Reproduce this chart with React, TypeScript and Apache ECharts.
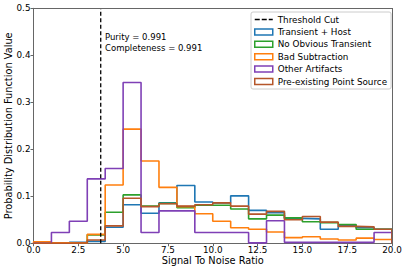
import React, { useEffect, useRef } from "react";
import * as echarts from "echarts";

const binEdges = [0, 1, 2, 3, 4, 5, 6, 7, 8, 9, 10, 11, 12, 13, 14, 15, 16, 17, 18, 19, 20];
const transientHost = [0, 0, 0.002, 0.004, 0.034, 0.082, 0.064, 0.086, 0.123, 0.088, 0.086, 0.101, 0.070, 0.065, 0.053, 0.052, 0.030, 0.038, 0.033, 0.030];
const noObviousTransient = [0, 0, 0.001, 0.018, 0.066, 0.103, 0.079, 0.085, 0.076, 0.081, 0.081, 0.073, 0.052, 0.060, 0.054, 0.046, 0.044, 0.040, 0.030, 0.030];
const badSubtraction = [0.003, 0.001, 0.001, 0.019, 0.124, 0.243, 0.175, 0.119, 0.078, 0.063, 0.047, 0.033, 0.030, 0.024, 0.012, 0.014, 0.009, 0.007, 0.011, 0.008];
const otherArtifacts = [0, 0.023, 0.047, 0.137, 0.159, 0.342, 0.023, 0.069, 0.069, 0.023, 0.023, 0.023, 0.001, 0.048, 0.002, 0.002, 0.002, 0.002, 0.002, 0.023];
const preexistingPointSource = [0, 0, 0.001, 0.007, 0.037, 0.096, 0.078, 0.084, 0.079, 0.082, 0.086, 0.079, 0.062, 0.068, 0.050, 0.057, 0.045, 0.036, 0.035, 0.030];
const thresholdX = 3.75;
const annotationLines = ["Purity = 0.991", "Completeness = 0.991"];
const xTicks = [0, 2.5, 5, 7.5, 10, 12.5, 15, 17.5, 20];

const seriesDefs = [
  { name: "Transient + Host", color: "#1f77b4", values: transientHost },
  { name: "No Obvious Transient", color: "#2ca02c", values: noObviousTransient },
  { name: "Bad Subtraction", color: "#ff7f0e", values: badSubtraction },
  { name: "Other Artifacts", color: "#7f40b6", values: otherArtifacts },
  { name: "Pre-existing Point Source", color: "#b5562a", values: preexistingPointSource },
];

function stepData(values: number[]) {
  const pts: number[][] = [[binEdges[0], 0]];
  values.forEach((v, i) => pts.push([binEdges[i], v]));
  pts.push([binEdges[binEdges.length - 1], values[values.length - 1]]);
  pts.push([binEdges[binEdges.length - 1], 0]);
  return pts;
}

export default function App() {
  const ref = useRef<HTMLDivElement>(null);
  useEffect(() => {
    if (!ref.current) return;
    const chart = echarts.init(ref.current, null, { renderer: "svg" });
    const font = "DejaVu Sans";
    const fs = 8.8;
    const nameFs = 9.8;
    const series: any[] = [
      {
        name: "Threshold Cut",
        type: "line",
        data: [[thresholdX, 0], [thresholdX, 0.5]],
        showSymbol: false,
        symbol: "none",
        lineStyle: { color: "#000", width: 1.3, type: [4, 2.5] },
        z: 10,
      },
      ...seriesDefs.map((s) => ({
        name: s.name,
        type: "line",
        step: "end",
        data: stepData(s.values),
        showSymbol: false,
        symbol: "none",
        lineStyle: { color: s.color, width: 1.6 },
        itemStyle: { color: s.color },
      })),
    ];
    chart.setOption({
      animation: false,
      textStyle: { fontFamily: font },
      grid: { left: 33.5, right: 15, top: 8.3, bottom: 27.7, containLabel: false, outerBoundsMode: "none" },
      xAxis: {
        type: "value",
        min: 0,
        max: 20,
        interval: 2.5,
        name: "Signal To Noise Ratio",
        nameLocation: "middle",
        nameGap: 12.5,
        nameMoveOverlap: false,
        nameTextStyle: { fontFamily: font, fontSize: nameFs, color: "#000" },
        axisLine: { show: true, lineStyle: { color: "#666", width: 1 } },
        axisTick: { show: true, length: 3, lineStyle: { color: "#666" } },
        axisLabel: { fontFamily: font, fontSize: fs, color: "#000", margin: 2.5, formatter: (v: number) => v.toFixed(1), customValues: xTicks },
        splitLine: { show: false },
      },
      yAxis: {
        type: "value",
        min: 0,
        max: 0.5,
        interval: 0.1,
        name: "Probability Distribution Function Value",
        nameLocation: "middle",
        nameGap: 20.5,
        nameMoveOverlap: false,
        nameTextStyle: { fontFamily: font, fontSize: nameFs, color: "#000" },
        axisLine: { show: true, lineStyle: { color: "#666", width: 1 } },
        axisTick: { show: true, length: 3, lineStyle: { color: "#666" } },
        axisLabel: { fontFamily: font, fontSize: fs, color: "#000", margin: 3, formatter: (v: number) => v.toFixed(1) },
        splitLine: { show: false },
      },
      legend: {
        orient: "vertical",
        left: 251,
        top: 12,
        itemWidth: 18,
        itemHeight: 6,
        itemGap: 3.4,
        padding: [3, 4, 3, 3],
        borderColor: "#ccc",
        borderWidth: 1,
        borderRadius: 2,
        backgroundColor: "#fff",
        textStyle: { fontFamily: font, fontSize: fs, color: "#000" },
        data: [
          {
            name: "Threshold Cut",
            icon: "path://M0,3h5v1.6h-5z M7,3h5v1.6h-5z M14,3h4v1.6h-4z",
            itemStyle: { color: "#000", borderWidth: 0 },
          },
          ...seriesDefs.map((s) => ({
            name: s.name,
            icon: "rect",
            itemStyle: { color: "rgba(255,255,255,0)", borderColor: s.color, borderWidth: 1.5 },
          })),
        ],
      },
      graphic: annotationLines.map((t, i) => ({
        type: "text",
        left: 105,
        top: 32 + i * 11.4,
        style: { text: t, fontFamily: font, fontSize: 8.5, fill: "#000" },
      })),
      series,
    });
    return () => chart.dispose();
  }, []);
  return (
    <div style={{ position: "absolute", left: 0, top: 0 }}>
      <div ref={ref} style={{ width: 407, height: 271 }} />
      <div style={{ position: "absolute", left: 392, top: 8, width: 1, height: 236, background: "#666" }} />
      <div style={{ position: "absolute", left: 33, top: 8, width: 360, height: 1, background: "#666" }} />
    </div>
  );
}
